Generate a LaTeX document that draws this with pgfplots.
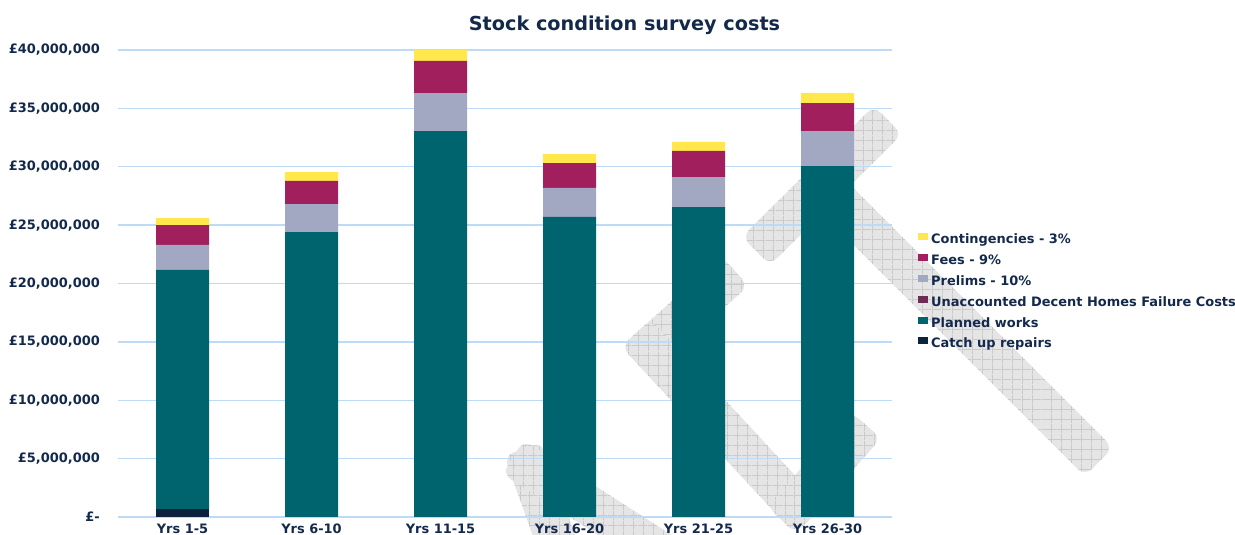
\documentclass[border=0pt]{standalone}
\usepackage{fontspec}
\setmainfont{DejaVu Sans}
\usepackage{pgfplots}
\pgfplotsset{compat=1.18}
\usetikzlibrary{calc,patterns.meta}
\definecolor{navy}{HTML}{13294B}
\definecolor{contc}{HTML}{FFE74C}
\definecolor{feesc}{HTML}{A01F5C}
\definecolor{prelc}{HTML}{A2A8C2}
\definecolor{unacc}{HTML}{6B2D55}
\definecolor{planc}{HTML}{00646E}
\definecolor{catchc}{HTML}{0C2340}
\definecolor{gridc}{HTML}{BDDBF7}
\definecolor{wmfill}{HTML}{E5E5E5}
\definecolor{wmline}{HTML}{CACACA}
\tikzset{wmstyle/.style={fill=wmfill,
  postaction={pattern={Lines[angle=0,distance=9.5bp,line width=0.7bp]}, pattern color=wmline},
  postaction={pattern={Lines[angle=90,distance=9.5bp,line width=0.7bp]}, pattern color=wmline}}}
\newcommand{\band}[2]{\path[wmstyle, rounded corners=10bp] ($(#1)!20bp!90:(#2)$) -- ($(#2)!20bp!-90:(#1)$) -- ($(#2)!20bp!90:(#1)$) -- ($(#1)!20bp!-90:(#2)$) -- cycle;}
\begin{document}
\begin{tikzpicture}
\useasboundingbox (0,0) rectangle (1235bp,535bp);
% background watermark (decoration)
\begin{scope}[shift={(0bp,535bp)},x=1bp,y=-1bp]
  \band{822,185}{1099,462}
  \band{756,251}{888,120}
  \band{735,271}{635,361}
  \band{636,333}{809,520}
  \band{782,520}{866,425}
  \band{523,449}{570,580}
  \band{513,457}{705,580}
\end{scope}
\begin{axis}[
  at={(118bp,18bp)}, anchor=south west,
  scale only axis, width=774bp, height=467bp,
  ybar stacked, bar width=53bp,
  xmin=-0.5, xmax=5.5, ymin=0, ymax=40000000,
  xtick={0,1,2,3,4,5},
  xticklabels={Yrs 1-5, Yrs 6-10, Yrs 11-15, Yrs 16-20, Yrs 21-25, Yrs 26-30},
  ytick={0,5000000,10000000,15000000,20000000,25000000,30000000,35000000,40000000},
  yticklabels={{£-},{£5,000,000},{£10,000,000},{£15,000,000},{£20,000,000},{£25,000,000},{£30,000,000},{£35,000,000},{£40,000,000}},
  scaled y ticks=false,
  major tick length=0pt,
  axis line style={draw=none},
  ymajorgrids, grid style={draw=gridc, line width=1.3bp},
  tick label style={font=\bfseries\fontsize{13}{13}\selectfont, text=navy, inner sep=0pt},
  yticklabel style={xshift=-18bp},
  xticklabel style={yshift=-7bp},
  reverse legend,
  legend style={at={(1.0336,0.482)}, anchor=west, draw=none, fill=none, inner sep=0pt,
    font=\bfseries\fontsize{13}{13}\selectfont, text=navy, row sep=7.4bp,
    nodes={inner sep=0pt, text height=10bp, text depth=3bp},
    /tikz/every odd column/.append style={column sep=3bp}},
  legend cell align=left,
  legend image code/.code={\fill[#1] (0bp,0bp) rectangle (10bp,7bp);},
]
\addplot[fill=catchc, draw=none] coordinates {(0,650000) (1,0) (2,0) (3,0) (4,0) (5,0)};
\addplot[fill=planc, draw=none] coordinates {(0,20510000) (1,24410000) (2,33060000) (3,25700000) (4,26550000) (5,30060000)};
\addplot[fill=unacc, draw=none] coordinates {(0,0) (1,0) (2,0) (3,0) (4,0) (5,0)};
\addplot[fill=prelc, draw=none] coordinates {(0,2140000) (1,2390000) (2,3240000) (3,2480000) (4,2570000) (5,3000000)};
\addplot[fill=feesc, draw=none] coordinates {(0,1710000) (1,1980000) (2,2760000) (3,2140000) (4,2230000) (5,2400000)};
\addplot[fill=contc, draw=none] coordinates {(0,600000) (1,770000) (2,940000) (3,770000) (4,770000) (5,860000)};
\legend{Catch up repairs, Planned works, Unaccounted Decent Homes Failure Costs, Prelims - 10\%, Fees - 9\%, Contingencies - 3\%}
\end{axis}
\node[anchor=base, font=\bfseries\fontsize{19.3}{19.3}\selectfont, text=navy] at (624.5bp,504bp) {Stock condition survey costs};
\end{tikzpicture}
\end{document}
